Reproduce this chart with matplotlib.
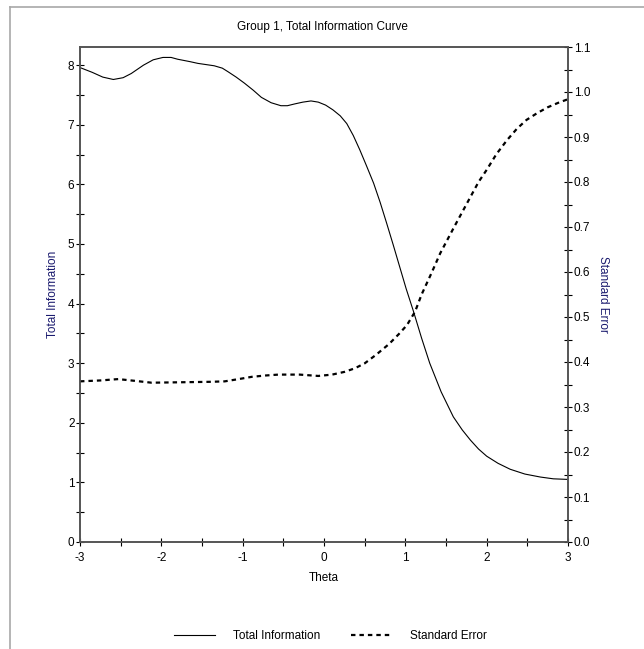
import matplotlib
matplotlib.use('Agg')
import matplotlib.pyplot as plt
from matplotlib.lines import Line2D
from matplotlib.ticker import MultipleLocator, FormatStrFormatter

plt.rcParams['font.family'] = ['Liberation Sans', 'DejaVu Sans']
plt.rcParams['axes.unicode_minus'] = False

# values
theta_info = [-3.0, -2.85, -2.72, -2.59, -2.47, -2.37, -2.22, -2.10, -1.98, -1.88, -1.80,
              -1.65, -1.55, -1.35, -1.25, -1.18, -1.08, -0.98, -0.87, -0.77, -0.65,
              -0.53, -0.45, -0.36, -0.26, -0.16, -0.07, 0.02, 0.11, 0.20, 0.28,
              0.36, 0.44, 0.52, 0.61, 0.69, 0.77, 0.85, 0.93, 1.01, 1.10, 1.20,
              1.30, 1.44, 1.59, 1.70, 1.80, 1.90, 2.00, 2.14, 2.29, 2.47, 2.66, 2.82, 3.0]
total_info = [7.96, 7.88, 7.80, 7.76, 7.79, 7.86, 8.00, 8.09, 8.13, 8.13, 8.10,
              8.06, 8.03, 7.99, 7.95, 7.89, 7.80, 7.70, 7.58, 7.46, 7.37,
              7.32, 7.32, 7.35, 7.38, 7.40, 7.38, 7.33, 7.25, 7.15, 7.02,
              6.82, 6.58, 6.32, 6.02, 5.70, 5.35, 4.99, 4.62, 4.25, 3.87, 3.42,
              3.00, 2.52, 2.10, 1.88, 1.71, 1.56, 1.44, 1.32, 1.22, 1.14, 1.09, 1.06, 1.05]

theta_se = [-3.0, -2.75, -2.53, -2.32, -2.12, -1.75, -1.39, -1.22, -1.05, -0.89, -0.72,
            -0.56, -0.30, -0.07, 0.10, 0.25, 0.38, 0.50, 0.64, 0.80, 0.92, 1.02,
            1.12, 1.20, 1.32, 1.43, 1.60, 1.75, 1.90, 2.00, 2.12, 2.25, 2.37, 2.49,
            2.62, 2.75, 2.88, 3.0]
std_err = [0.357, 0.359, 0.362, 0.358, 0.354, 0.355, 0.356, 0.357, 0.362, 0.367, 0.370,
           0.372, 0.372, 0.369, 0.372, 0.378, 0.386, 0.397, 0.416, 0.440, 0.462, 0.482,
           0.512, 0.550, 0.597, 0.642, 0.700, 0.750, 0.800, 0.827, 0.862, 0.893, 0.918, 0.938,
           0.953, 0.966, 0.976, 0.984]

navy = '#1a1a6e'
spine_col = '#555555'

fig = plt.figure(figsize=(6.44, 6.49), dpi=100)
ax1 = fig.add_axes([80 / 644, 1 - 542 / 649, 488 / 644, 495 / 649])
ax2 = ax1.twinx()

l1, = ax1.plot(theta_info, total_info, '-', color='black', linewidth=0.8)
l2, = ax2.plot(theta_se, std_err, color='black', linewidth=1.6, linestyle=(0, (2.0, 1.8)))

ax1.set_xlim(-3, 3)
ax1.set_ylim(0, 8.305)
ax2.set_ylim(0, 1.1)

ax1.xaxis.set_major_locator(MultipleLocator(1))
ax1.xaxis.set_minor_locator(MultipleLocator(0.5))
ax1.yaxis.set_major_locator(MultipleLocator(1))
ax1.yaxis.set_minor_locator(MultipleLocator(0.5))
ax2.yaxis.set_major_locator(MultipleLocator(0.1))
ax2.yaxis.set_minor_locator(MultipleLocator(0.05))
ax2.yaxis.set_major_formatter(FormatStrFormatter('%.1f'))

for ax in (ax1, ax2):
    for s in ax.spines.values():
        s.set_color(spine_col)
        s.set_linewidth(1.2)
    ax.tick_params(which='both', direction='inout', color='black', width=0.8, labelsize=8.5, pad=1)
    ax.tick_params(which='major', length=6)
    ax.tick_params(which='minor', length=6)
ax1.tick_params(axis='x', pad=4)

ax1.set_xlabel('Theta', fontsize=8.5, labelpad=6)
ax1.set_ylabel('Total Information', fontsize=8.5, color=navy, labelpad=6)
ax2.set_ylabel('Standard Error', fontsize=8.5, color=navy, rotation=270, labelpad=14)
fig.text(0.5, 1 - 27 / 649, 'Group 1, Total Information Curve', ha='center', va='center', fontsize=8.5)

fig.legend([l1, l2], ['Total Information', 'Standard Error'], loc='center',
           bbox_to_anchor=(0.513, 1 - 636 / 649), ncol=2, frameon=False, fontsize=8.5,
           handlelength=3.5, handletextpad=1.5, columnspacing=2.6)

# panel frame on top and left edge
fig.add_artist(Line2D([10 / 644, 1], [1 - 7 / 649, 1 - 7 / 649], color='#a8a8a8', linewidth=1.2))
fig.add_artist(Line2D([10 / 644, 10 / 644], [0, 1 - 7 / 649], color='#a8a8a8', linewidth=1.2))

fig.savefig('out.png', dpi=100)
